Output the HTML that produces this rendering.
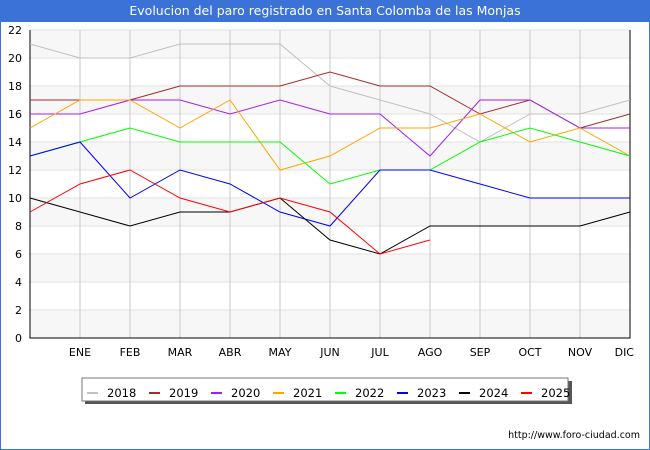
<!DOCTYPE html>
<html><head><meta charset="utf-8"><style>
body{margin:0;width:650px;height:450px;overflow:hidden;background:#fff;font-family:"DejaVu Sans","Liberation Sans",sans-serif}
#wrap{position:absolute;left:0;top:0;width:648px;height:448px;border:1px solid #3a72d8}
#title{position:absolute;left:0;top:0;width:650px;height:22px;background:#3a72d8;color:#fff;font-size:12.5px;line-height:22px;text-align:center}
</style></head><body>
<div id="wrap"></div>
<div id="title">Evolucion del paro registrado en Santa Colomba de las Monjas</div>
<svg id="chart" width="650" height="450" style="position:absolute;left:0;top:0"></svg>
<script>
const months=["","ENE","FEB","MAR","ABR","MAY","JUN","JUL","AGO","SEP","OCT","NOV","DIC"];
const yTicks=[0,2,4,6,8,10,12,14,16,18,20,22];
const years=["2018","2019","2020","2021","2022","2023","2024","2025"];
const colors=["#c0c0c0","#a52a2a","#a020f0","#ffa500","#00ff00","#0000ff","#000000","#ff0000"];
const s2018=[21,20,20,21,21,21,18,17,16,14,16,16,17];
const s2019=[17,17,17,18,18,18,19,18,18,16,17,15,16];
const s2020=[16,16,17,17,16,17,16,16,13,17,17,15,15];
const s2021=[15,17,17,15,17,12,13,15,15,16,14,15,13];
const s2022=[13,14,15,14,14,14,11,12,12,14,15,14,13];
const s2023=[13,14,10,12,11,9,8,12,12,11,10,10,10];
const s2024=[10,9,8,9,9,10,7,6,8,8,8,8,9];
const s2025=[9,11,12,10,9,10,9,6,7];
const series=[s2018,s2019,s2020,s2021,s2022,s2023,s2024,s2025];
const NS="http://www.w3.org/2000/svg";
const svg=document.getElementById('chart');
const X0=30,X1=630,Y0=338,Y1=30,YMAX=22;
const xs=i=>X0+i*(X1-X0)/(months.length-1);
const ys=v=>Y0-v*(Y0-Y1)/YMAX;
function mk(t,a){const e=document.createElementNS(NS,t);for(const k in a)e.setAttribute(k,a[k]);svg.appendChild(e);return e;}
for(let i=0;i<yTicks.length-1;i++){
  if((yTicks.length-2-i)%2===0){
    const r=mk('rect',{x:X0,y:ys(yTicks[i+1]),width:X1-X0,height:ys(yTicks[i])-ys(yTicks[i+1]),fill:'#f7f7f7'});
    
    
  }
}
yTicks.forEach(v=>{
  const l=mk('line',{x1:X0,x2:X1,y1:ys(v),y2:ys(v),stroke:'#e0e0e0','stroke-width':1});
  
  
  const t=mk('text',{x:X0-8,y:ys(v)+4,'text-anchor':'end','font-size':11,fill:'#000'});
  t.textContent=v;
  
  
});
months.forEach((m,i)=>{
  if(i>0){
    const l=mk('line',{x1:xs(i),x2:xs(i),y1:Y1,y2:Y0,stroke:'#c8c8c8','stroke-width':1});
    
    
  }
  const t=mk('text',{x:xs(i),y:356,'text-anchor':i===months.length-1?'end':'middle','font-size':11,fill:'#000'});
  if(i===months.length-1)t.setAttribute('x',X1+4);
  t.textContent=m;
  
  
});
const ax=mk('polyline',{points:`${X0},${Y1} ${X0},${Y0} ${X1},${Y0} ${X1},${Y1}`,fill:'none',stroke:'#000','stroke-width':1});


series.forEach((s,k)=>{
  const p=mk('polyline',{points:s.map((v,i)=>xs(i)+','+ys(v)).join(' '),fill:'none',stroke:colors[k],'stroke-width':1});
  
  
});
// legend
const sh=mk('rect',{x:85,y:381,width:487,height:23,fill:'#555'});


const lb=mk('rect',{x:82,y:378,width:486,height:23,fill:'#fff',stroke:'#777','stroke-width':1});


years.forEach((y,k)=>{
  const x=87+k*62;
  const l=mk('line',{x1:x,x2:x+11,y1:393,y2:393,stroke:colors[k],'stroke-width':2});
  
  
  const t=mk('text',{x:x+20,y:397,'font-size':11.5,fill:'#000'});
  t.textContent=y;
  
  
});
const u=mk('text',{x:640,y:438,'text-anchor':'end','font-size':9.5,fill:'#000'});
u.textContent='http://www.foro-ciudad.com';


</script>
</body></html>
